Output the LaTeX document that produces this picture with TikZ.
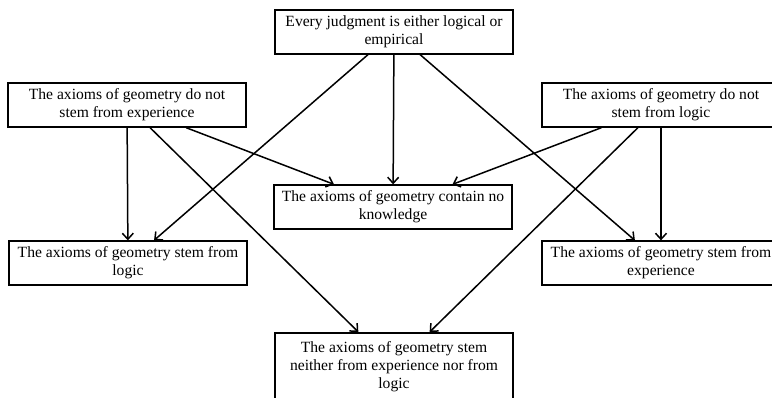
\documentclass[tikz,border=0pt]{standalone}
\usepackage{fontspec}
\setmainfont{Liberation Serif}
\usetikzlibrary{arrows.meta}

\tikzset{
  claim/.style={rectangle,draw,line width=2pt,text width=226pt,align=flush center,
    inner xsep=6pt,inner ysep=5.5pt,font=\fontsize{15.6}{18}\selectfont},
  infer/.style={-{Straight Barb[length=6pt,width=11pt]},line width=1.5pt},
}

\begin{document}
\begin{tikzpicture}[x=1pt,y=-1pt]
      \useasboundingbox (0,0) rectangle (772,397);
      \clip (0,0) rectangle (772,397);
      \node [claim] (every) at (394,32) {Every judgment is either logical or empirical};
      \node [claim] (notexp) at (127,105) {The axioms of geometry do not stem from experience};
      \node [claim] (notlog) at (661,105) {The axioms of geometry do not stem from logic};
      \node [claim] (noknow) at (393,207) {The axioms of geometry contain no knowledge};
      \node [claim] (fromlog) at (128,263) {The axioms of geometry stem from logic};
      \node [claim] (fromexp) at (661,263) {The axioms of geometry stem from experience};
      \node [claim,minimum height=68pt] (neither) at (394,367) {The axioms of geometry stem neither from experience nor from logic};
      \foreach \a/\b in {every/noknow,every/fromlog,every/fromexp,
                         notexp/fromlog,notexp/noknow,notexp/neither,
                         notlog/noknow,notlog/fromexp,notlog/neither}
      {
        \draw [infer] (\a) -- (\b);
      }
    \end{tikzpicture}
\end{document}
